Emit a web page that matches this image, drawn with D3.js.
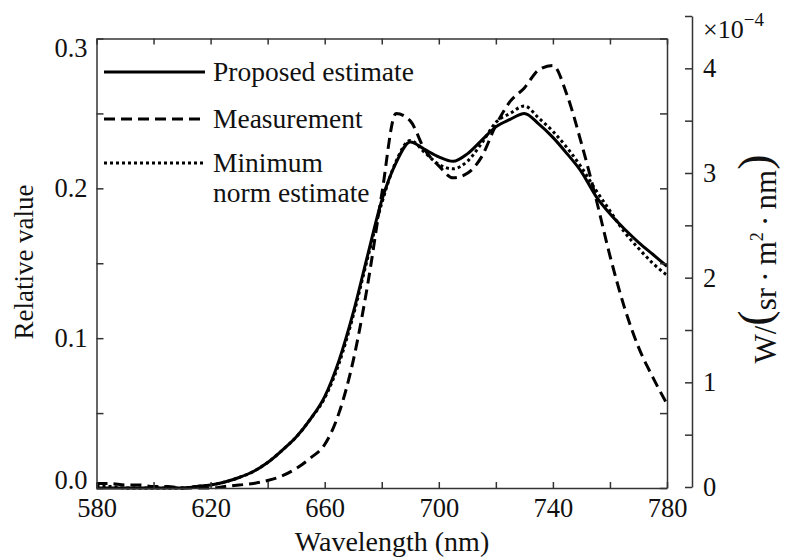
<!DOCTYPE html>
<meta charset="utf-8">
<script src="https://d3js.org/d3.v7.min.js"></script>
<style>
    body { margin: 0; background: #fff; }
    text { font-family: "Liberation Serif", "Times New Roman", serif; fill: #111; }
    .axis path, .axis line { stroke: #333; stroke-width: 1.5; }
</style>

<div id="chart"></div>

<script>
    // values (5 nm steps)
    var wavelength = [580,585,590,595,600,605,610,615,620,625,630,635,640,645,650,655,660,665,670,675,
                      680,685,690,695,700,705,710,715,720,725,730,735,740,745,750,755,760,765,770,775,780];
    var proposed = [0.000,0.000,0.000,0.000,0.000,0.000,0.000,0.001,0.002,0.004,0.007,0.011,0.017,0.025,0.034,0.046,0.061,0.085,0.117,0.155,
                    0.192,0.217,0.231,0.226,0.221,0.218,0.223,0.232,0.241,0.246,0.250,0.243,0.234,0.223,0.211,0.195,0.183,0.173,0.164,0.156,0.148];
    var measured = [0.003,0.003,0.002,0.002,0.001,0.001,0.000,0.000,0.000,0.001,0.002,0.003,0.005,0.008,0.013,0.020,0.029,0.050,0.085,0.135,
                    0.196,0.250,0.245,0.226,0.215,0.207,0.210,0.221,0.242,0.258,0.267,0.279,0.282,0.262,0.230,0.194,0.155,0.121,0.094,0.074,0.056];
    var minNorm  = [0.001,0.001,0.000,0.000,0.000,0.000,0.000,0.001,0.002,0.004,0.007,0.011,0.017,0.025,0.034,0.046,0.060,0.083,0.115,0.153,
                    0.190,0.218,0.232,0.224,0.216,0.213,0.218,0.230,0.244,0.250,0.255,0.247,0.238,0.227,0.214,0.199,0.185,0.171,0.160,0.150,0.142];

    var xTickValues = [580,600,620,640,660,680,700,720,740,760,780];
    var xLabels = [580,620,660,700,740,780];
    var yTickValues = [0,0.05,0.1,0.15,0.2,0.25,0.3];
    var yLabels = [0,0.1,0.2,0.3];
    var rTickValues = [0,0.5,1,1.5,2,2.5,3,3.5,4,4.5];
    var rLabels = [0,1,2,3,4];

    var series = [
        {name: "Proposed estimate", values: proposed, dash: null},
        {name: "Measurement", values: measured, dash: "11,6"},
        {name: "Minimum|norm estimate", values: minNorm, dash: "3,3"}
    ];

    var W = 785, H = 557;
    var margin = {top: 38.5, right: 118, bottom: 69, left: 96.5};
    var width = W - margin.left - margin.right,
        height = H - margin.top - margin.bottom;

    var svg = d3.select("#chart")
        .append("svg")
        .attr("width", W)
        .attr("height", H);

    var x = d3.scaleLinear().domain([580, 780]).range([margin.left, margin.left + width]);
    var y = d3.scaleLinear().domain([0, 0.3]).range([margin.top + height, margin.top]);
    // right axis: W/(sr m^2 nm), x1e-4
    var yR = d3.scaleLinear().domain([0, 4.5]).range([487, 16]);

    // curves
    var line = d3.line()
        .curve(d3.curveMonotoneX)
        .x(function(d, i) { return x(wavelength[i]); })
        .y(function(d) { return y(d); });

    svg.selectAll(".curve")
        .data(series)
        .enter()
        .append("path")
        .attr("class", "curve")
        .attr("d", function(d) { return line(d.values); })
        .attr("fill", "none")
        .attr("stroke", "#000")
        .attr("stroke-width", 3)
        .attr("stroke-dasharray", function(d) { return d.dash; });

    // box with inward ticks
    var fmt1 = d3.format(".1f");
    svg.append("g").attr("class", "axis")
        .attr("transform", "translate(0," + y(0) + ")")
        .call(d3.axisBottom(x).tickValues(xTickValues).tickSizeInner(-6).tickSizeOuter(0).tickPadding(10)
            .tickFormat(function(d) { return xLabels.indexOf(d) >= 0 ? d : ""; }));
    svg.append("g").attr("class", "axis")
        .attr("transform", "translate(0," + y(0.3) + ")")
        .call(d3.axisTop(x).tickValues(xTickValues).tickSizeInner(-6).tickSizeOuter(0).tickFormat(""));
    var left = svg.append("g").attr("class", "axis")
        .attr("transform", "translate(" + x(580) + ",0)")
        .call(d3.axisLeft(y).tickValues(yTickValues).tickSizeInner(-7).tickSizeOuter(0).tickPadding(9)
            .tickFormat(function(d) { return yLabels.indexOf(d) >= 0 ? fmt1(d) : ""; }));
    svg.append("g").attr("class", "axis")
        .attr("transform", "translate(" + x(780) + ",0)")
        .call(d3.axisRight(y).tickValues(yTickValues).tickSizeInner(-7).tickSizeOuter(0).tickFormat(""));

    // right-hand axis
    svg.append("g").attr("class", "axis")
        .attr("transform", "translate(692,0)")
        .call(d3.axisRight(yR).tickValues(rTickValues).tickSizeInner(-7).tickSizeOuter(0).tickPadding(11)
            .tickFormat(function(d) { return rLabels.indexOf(d) >= 0 ? d : ""; }));

    svg.selectAll(".axis text")
        .style("font-family", '"Liberation Serif", "Times New Roman", serif')
        .style("font-size", "26.5px")
        .attr("fill", "#111");

    // end labels of the left axis sit inside the box
    left.selectAll(".tick text")
        .attr("dy", function(d) { return d === 0.3 ? "0.66em" : d === 0 ? "0.0em" : "0.32em"; });

    // x1e-4 multiplier
    var mult = svg.append("text")
        .attr("x", 703)
        .attr("y", 38)
        .style("font-size", "26px");
    mult.append("tspan").text("\u00d710");
    mult.append("tspan").attr("dy", -12).style("font-size", "19px").text("\u22124");

    // axis titles
    svg.append("text")
        .attr("x", 392)
        .attr("y", 551)
        .attr("text-anchor", "middle")
        .style("font-size", "28px")
        .text("Wavelength (nm)");

    svg.append("text")
        .attr("transform", "translate(33,262) rotate(-90)")
        .attr("text-anchor", "middle")
        .style("font-size", "27px")
        .text("Relative value");

    var rt = svg.append("text")
        .attr("transform", "translate(776,259) rotate(-90)")
        .attr("text-anchor", "middle")
        .style("font-size", "31px");
    rt.append("tspan").text("W/");
    rt.append("tspan").attr("dy", -6).style("font-size", "46px").text("(");
    rt.append("tspan").attr("dy", 6).text("sr\u2009\u00b7\u2009m");
    rt.append("tspan").attr("dy", -13).style("font-size", "18px").text("2");
    rt.append("tspan").attr("dy", 13).text("\u2009\u00b7\u2009nm");
    rt.append("tspan").attr("dy", -6).style("font-size", "46px").text(")");

    // legend
    var legend = svg.append("g");
    var legendY = [72, 119, 163];
    series.forEach(function(s, i) {
        legend.append("line")
            .attr("x1", 104).attr("x2", 205)
            .attr("y1", legendY[i]).attr("y2", legendY[i])
            .attr("stroke", "#000")
            .attr("stroke-width", 3)
            .attr("stroke-dasharray", s.dash);
        var parts = s.name.split("|");
        parts.forEach(function(p, j) {
            legend.append("text")
                .attr("x", 213)
                .attr("y", legendY[i] + 9 + j * 30)
                .style("font-size", "27.5px")
                .text(p);
        });
    });
</script>
